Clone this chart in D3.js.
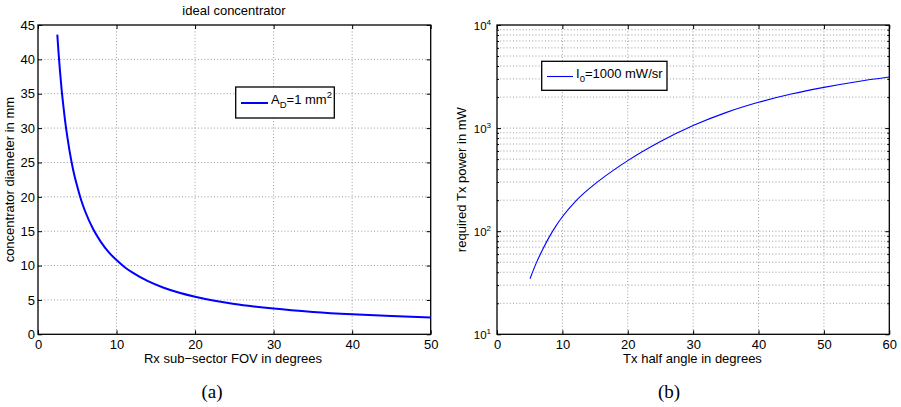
<!DOCTYPE html>
<html><head><meta charset="utf-8">
<script src="https://cdn.jsdelivr.net/npm/d3@7"></script>
<style>
body{margin:0;background:#fff}
text{font-family:"Liberation Sans",Arial,Helvetica,sans-serif;fill:#000}
</style>
</head><body>
<svg id="c" width="901" height="407"></svg>
<script>
// ---- Panel (a) data ----
const fovDeg  = [2.46, 2.6, 2.8, 3.0, 3.25, 3.5, 3.75, 4.0, 4.5, 5.0, 5.5, 6.0, 7, 8, 9, 10, 11, 12, 14, 16, 18, 20, 22.5, 25, 27.5, 30, 35, 40, 45, 50];
const diamMm  = [43.6, 41.2, 38.3, 35.7, 33.0, 30.6, 28.6, 26.8, 23.8, 21.5, 19.5, 17.9, 15.35, 13.45, 11.95, 10.8, 9.8, 9.0, 7.73, 6.78, 6.05, 5.47, 4.88, 4.42, 4.05, 3.74, 3.26, 2.91, 2.65, 2.44];
const aXTicks = [0, 10, 20, 30, 40, 50];
const aYTicks = [0, 5, 10, 15, 20, 25, 30, 35, 40, 45];
// ---- Panel (b) data ----
const txAngle = [5.05, 6, 7, 8, 9, 10, 12, 15, 18, 20, 25, 30, 35, 40, 45, 50, 55, 60];
const txPower = [34.6, 49, 66.8, 88.1, 112, 138, 195, 288, 398, 484, 741, 1059, 1413, 1778, 2138, 2483, 2818, 3126];
const bXTicks = [0, 10, 20, 30, 40, 50, 60];
const bYTicks = [10, 100, 1000, 10000];
const bYExp   = ["1", "2", "3", "4"];

const svg = d3.select("#c");
const FONT = 13;
const FF = "Liberation Sans, Arial, sans-serif";
const gridStyle = s => s.attr("stroke", "#9a9a9a").attr("stroke-width", 1).attr("stroke-dasharray", "1,2.2").attr("fill", "none");

function frame(g, w, h) {
  g.append("rect").attr("x", 0).attr("y", 0).attr("width", w).attr("height", h)
    .attr("fill", "none").attr("stroke", "#000").attr("stroke-width", 1.3);
}

// ================= Panel (a) =================
{
  const L = 38, T = 25, W = 392.7, H = 309.3;
  const g = svg.append("g").attr("transform", `translate(${L},${T})`);
  const x = d3.scaleLinear().domain([0, 50]).range([0, W]);
  const y = d3.scaleLinear().domain([0, 45]).range([H, 0]);

  g.append("g").selectAll("line").data(aXTicks.slice(1, -1)).join("line")
    .attr("x1", d => x(d)).attr("x2", d => x(d)).attr("y1", 0).attr("y2", H).call(gridStyle);
  g.append("g").selectAll("line").data(aYTicks.slice(1, -1)).join("line")
    .attr("y1", d => y(d)).attr("y2", d => y(d)).attr("x1", 0).attr("x2", W).call(gridStyle);

  const ax = g.append("g").attr("transform", `translate(0,${H})`)
    .call(d3.axisBottom(x).tickValues(aXTicks).tickSizeInner(-4).tickSizeOuter(0).tickPadding(5));
  const ay = g.append("g")
    .call(d3.axisLeft(y).tickValues(aYTicks).tickSizeInner(-4).tickSizeOuter(0).tickPadding(3));
  g.append("g").call(d3.axisTop(x).tickValues(aXTicks).tickSizeInner(-4).tickSizeOuter(0).tickFormat(""));
  g.append("g").attr("transform", `translate(${W},0)`)
    .call(d3.axisRight(y).tickValues(aYTicks).tickSizeInner(-4).tickSizeOuter(0).tickFormat(""));
  g.selectAll(".domain").remove();
  g.selectAll(".tick line").attr("stroke", "#000");
  ax.selectAll("text").attr("font-size", FONT).attr("font-family", FF);
  ay.selectAll("text").attr("font-size", FONT).attr("font-family", FF);
  frame(g, W, H);

  const line = d3.line().x((d, i) => x(fovDeg[i])).y(d => y(d)).curve(d3.curveMonotoneX);
  g.append("path").datum(diamMm).attr("d", line).attr("fill", "none").attr("stroke", "#0000ff").attr("stroke-width", 2);

  svg.append("text").attr("x", 234).attr("y", 15).attr("text-anchor", "middle").attr("font-size", 13).text("ideal concentrator");
  svg.append("text").attr("x", 233).attr("y", 363).attr("text-anchor", "middle").attr("font-size", FONT).text("Rx sub\u2212sector FOV in degrees");
  svg.append("text").attr("transform", `translate(14,${T + H / 2}) rotate(-90)`).attr("text-anchor", "middle")
    .attr("font-size", FONT).text("concentrator diameter in mm");
  svg.append("text").attr("x", 212).attr("y", 398).attr("text-anchor", "middle").attr("font-size", 19)
    .style("font-family", "Liberation Serif, Times New Roman, serif").text("(a)");

  const lg = svg.append("g");
  lg.append("rect").attr("x", 235.7).attr("y", 87).attr("width", 98.6).attr("height", 31)
    .attr("fill", "#fff").attr("stroke", "#000").attr("stroke-width", 1.3);
  lg.append("line").attr("x1", 241).attr("x2", 268).attr("y1", 103).attr("y2", 103).attr("stroke", "#0000ff").attr("stroke-width", 2);
  const lt = lg.append("text").attr("x", 271).attr("y", 104).attr("font-size", 13);
  lt.append("tspan").text("A");
  lt.append("tspan").attr("dy", 4).attr("font-size", 9.5).text("D");
  lt.append("tspan").attr("dy", -4).text("=1 mm");
  lt.append("tspan").attr("dy", -6).attr("font-size", 9.5).text("2");
}

// ================= Panel (b) =================
{
  const L = 497, T = 25, W = 392.3, H = 309.3;
  const g = svg.append("g").attr("transform", `translate(${L},${T})`);
  const x = d3.scaleLinear().domain([0, 60]).range([0, W]);
  const y = d3.scaleLog().domain([10, 10000]).range([H, 0]);

  const minor = [];
  for (let k = 0; k < bYTicks.length - 1; k++)
    for (let m = 2; m <= 9; m++) minor.push(bYTicks[k] * m);

  g.append("g").selectAll("line").data(bXTicks.slice(1, -1)).join("line")
    .attr("x1", d => x(d)).attr("x2", d => x(d)).attr("y1", 0).attr("y2", H).call(gridStyle);
  g.append("g").selectAll("line").data(bYTicks.slice(1, -1).concat(minor)).join("line")
    .attr("y1", d => y(d)).attr("y2", d => y(d)).attr("x1", 0).attr("x2", W).call(gridStyle);

  const ax = g.append("g").attr("transform", `translate(0,${H})`)
    .call(d3.axisBottom(x).tickValues(bXTicks).tickSizeInner(-4).tickSizeOuter(0).tickPadding(5));
  const ay = g.append("g")
    .call(d3.axisLeft(y).tickValues(bYTicks).tickSizeInner(-4).tickSizeOuter(0).tickPadding(5).tickFormat(""));
  g.append("g").call(d3.axisLeft(y).tickValues(minor).tickSizeInner(-2).tickSizeOuter(0).tickFormat(""));
  g.append("g").attr("transform", `translate(${W},0)`)
    .call(d3.axisRight(y).tickValues(bYTicks).tickSizeInner(-4).tickSizeOuter(0).tickFormat(""));
  g.append("g").attr("transform", `translate(${W},0)`)
    .call(d3.axisRight(y).tickValues(minor).tickSizeInner(-2).tickSizeOuter(0).tickFormat(""));
  g.append("g").call(d3.axisTop(x).tickValues(bXTicks).tickSizeInner(-4).tickSizeOuter(0).tickFormat(""));
  g.selectAll(".domain").remove();
  g.selectAll(".tick line").attr("stroke", "#000");
  ax.selectAll("text").attr("font-size", FONT).attr("font-family", FF);

  ay.selectAll(".tick").each(function (d, i) {
    const t = d3.select(this).select("text");
    t.attr("font-size", 11.5).attr("font-family", FF).attr("x", -6).attr("dy", "0.36em");
    t.append("tspan").text("10");
    t.append("tspan").attr("font-size", 8).attr("dy", -5).text(bYExp[i]);
  });
  frame(g, W, H);

  const line = d3.line().x((d, i) => x(txAngle[i])).y(d => y(d)).curve(d3.curveMonotoneX);
  g.append("path").datum(txPower).attr("d", line).attr("fill", "none").attr("stroke", "#0000ff").attr("stroke-width", 1.1);

  svg.append("text").attr("x", 692.5).attr("y", 363).attr("text-anchor", "middle").attr("font-size", FONT).text("Tx half angle in degrees");
  svg.append("text").attr("transform", `translate(466,${T + H / 2}) rotate(-90)`).attr("text-anchor", "middle")
    .attr("font-size", FONT).text("required Tx power in mW");
  svg.append("text").attr("x", 669).attr("y", 398).attr("text-anchor", "middle").attr("font-size", 19)
    .style("font-family", "Liberation Serif, Times New Roman, serif").text("(b)");

  const lg = svg.append("g");
  lg.append("rect").attr("x", 541.7).attr("y", 61.3).attr("width", 125.3).attr("height", 29)
    .attr("fill", "#fff").attr("stroke", "#000").attr("stroke-width", 1.3);
  lg.append("line").attr("x1", 547).attr("x2", 573).attr("y1", 76.5).attr("y2", 76.5).attr("stroke", "#0000ff").attr("stroke-width", 1.1);
  const lt = lg.append("text").attr("x", 576).attr("y", 78).attr("font-size", 13);
  lt.append("tspan").text("I");
  lt.append("tspan").attr("dy", 4).attr("font-size", 9.5).text("0");
  lt.append("tspan").attr("dy", -4).text("=1000 mW/sr");
}
</script>
</body></html>
